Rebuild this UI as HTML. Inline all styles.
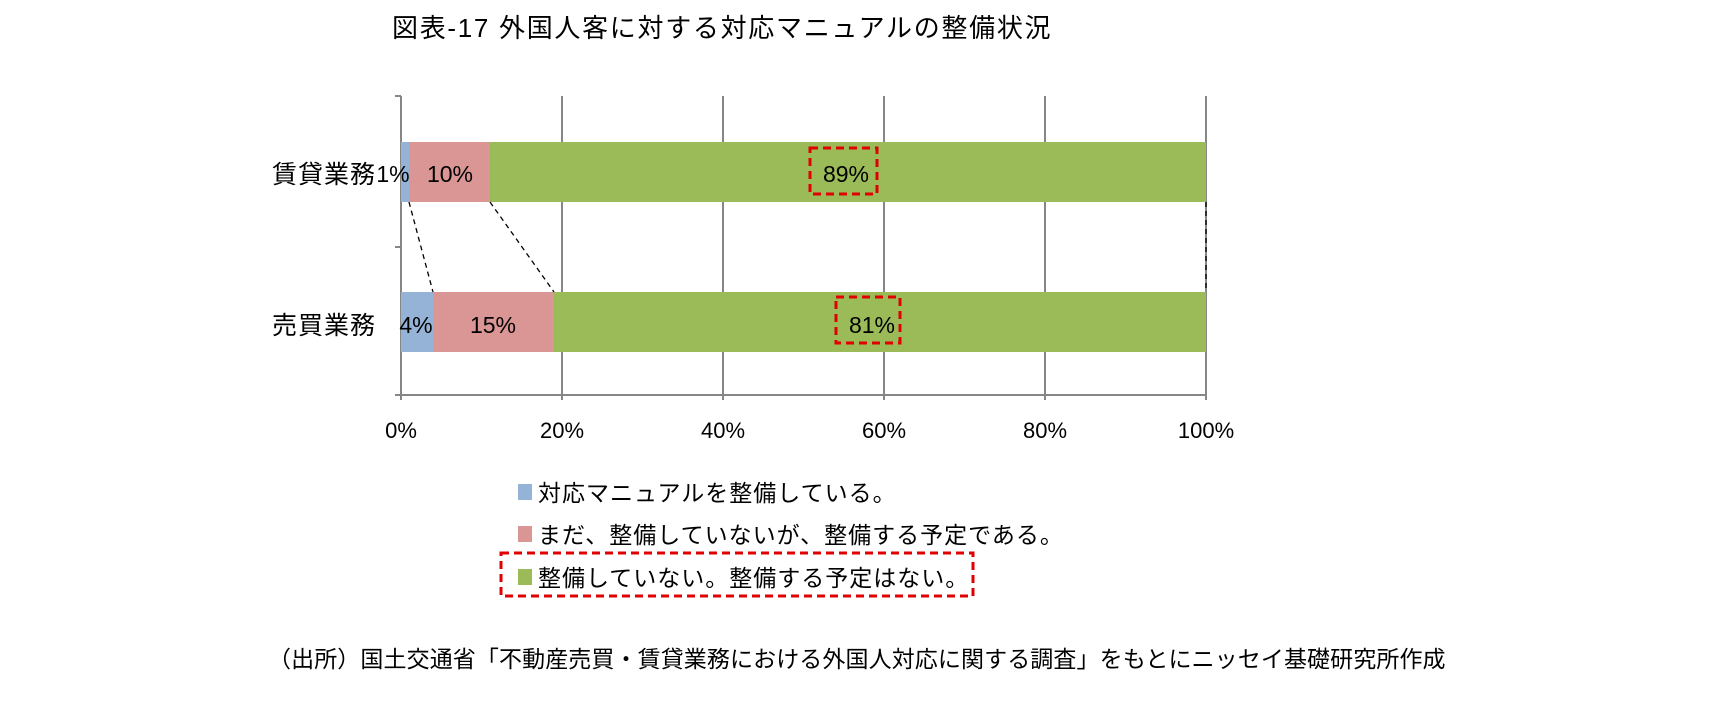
<!DOCTYPE html>
<html><head><meta charset="utf-8"><style>
body{margin:0;background:#fff;}
svg text{font-family:"Liberation Sans","Noto Sans CJK JP",sans-serif;fill:#000;}
</style></head><body>
<svg width="1709" height="702" xmlns="http://www.w3.org/2000/svg">
<text x="392" y="37" font-size="26" letter-spacing="1.7">図表-17  外国人客に対する対応マニュアルの整備状況</text>
<g stroke="#868686" stroke-width="2">
<line x1="562" y1="96" x2="562" y2="395"/>
<line x1="723" y1="96" x2="723" y2="395"/>
<line x1="884" y1="96" x2="884" y2="395"/>
<line x1="1045" y1="96" x2="1045" y2="395"/>
<line x1="1206" y1="96" x2="1206" y2="395"/>
<line x1="401" y1="96" x2="401" y2="400"/>
<line x1="395" y1="395" x2="1206" y2="395"/>
<line x1="395" y1="96" x2="401" y2="96"/>
<line x1="395" y1="247" x2="401" y2="247"/>
<line x1="562" y1="395" x2="562" y2="400"/>
<line x1="723" y1="395" x2="723" y2="400"/>
<line x1="884" y1="395" x2="884" y2="400"/>
<line x1="1045" y1="395" x2="1045" y2="400"/>
<line x1="1206" y1="395" x2="1206" y2="400"/>
</g>
<rect x="401" y="142" width="8" height="60" fill="#95b3d7"/>
<rect x="409" y="142" width="81" height="60" fill="#d99694"/>
<rect x="490" y="142" width="716" height="60" fill="#9bbb59"/>
<rect x="401" y="292" width="32" height="60" fill="#95b3d7"/>
<rect x="433" y="292" width="121" height="60" fill="#d99694"/>
<rect x="554" y="292" width="652" height="60" fill="#9bbb59"/>
<g stroke="#000" stroke-width="1.3" stroke-dasharray="5,4" fill="none">
<line x1="409" y1="202" x2="433" y2="292"/>
<line x1="490" y1="202" x2="554" y2="292"/>
<line x1="1206" y1="202" x2="1206" y2="292"/>
</g>
<g font-size="25">
<text x="272" y="183" letter-spacing="1">賃貸業務</text>
<text x="272" y="334" letter-spacing="1">売買業務</text>
</g>
<g font-size="23" text-anchor="middle">
<text x="393" y="182">1%</text>
<text x="450" y="182">10%</text>
<text x="846" y="182">89%</text>
<text x="416" y="333">4%</text>
<text x="493" y="333">15%</text>
<text x="872" y="333">81%</text>
</g>
<g stroke="#e00000" stroke-width="3" stroke-dasharray="8,5" fill="none">
<rect x="810" y="148" width="67" height="46"/>
<rect x="836" y="297" width="64" height="46"/>
<rect x="501" y="553" width="472" height="43"/>
</g>
<g font-size="22" text-anchor="middle">
<text x="401" y="438">0%</text>
<text x="562" y="438">20%</text>
<text x="723" y="438">40%</text>
<text x="884" y="438">60%</text>
<text x="1045" y="438">80%</text>
<text x="1206" y="438">100%</text>
</g>
<rect x="518" y="484" width="14" height="16" fill="#95b3d7"/>
<rect x="518" y="526" width="14" height="16" fill="#d99694"/>
<rect x="518" y="569" width="14" height="16" fill="#9bbb59"/>
<g font-size="23" letter-spacing="1">
<text x="538" y="501">対応マニュアルを整備している。</text>
<text x="538" y="543">まだ、整備していないが、整備する予定である。</text>
<text x="538" y="586">整備していない。整備する予定はない。</text>
</g>
<text x="268" y="667" font-size="23" letter-spacing="0.1">（出所）国土交通省「不動産売買・賃貸業務における外国人対応に関する調査」をもとにニッセイ基礎研究所作成</text>
</svg>
</body></html>
